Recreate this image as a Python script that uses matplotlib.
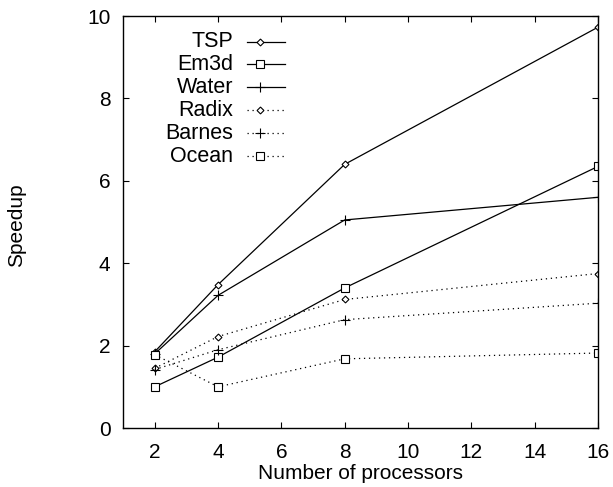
import matplotlib
matplotlib.use("Agg")
import matplotlib.pyplot as plt
from matplotlib.lines import Line2D

plt.rcParams['font.family'] = ['Liberation Sans', 'DejaVu Sans']

procs = [2, 4, 8, 16]
tsp = [1.85, 3.48, 6.40, 9.73]
em3d = [1.00, 1.72, 3.40, 6.35]
water = [1.80, 3.22, 5.05, 5.60]
radix = [1.45, 2.22, 3.12, 3.75]
barnes = [1.42, 1.90, 2.63, 3.03]
ocean = [1.78, 1.00, 1.68, 1.82]
names = ["TSP", "Em3d", "Water", "Radix", "Barnes", "Ocean"]
xticks = [2, 4, 6, 8, 10, 12, 14, 16]
yticks = [0, 2, 4, 6, 8, 10]

FS = 15

fig = plt.figure(figsize=(6.13, 4.87), dpi=100)
ax = fig.add_axes([0.2007, 0.1211, 0.7749, 0.846])

dot = (0, (1, 3))
styles = [
    ('D', '-', 3.5),
    ('s', '-', 5.5),
    ('+', '-', 7),
    ('D', dot, 3.5),
    ('+', dot, 7),
    ('s', dot, 5.5),
]
data = [tsp, em3d, water, radix, barnes, ocean]
for i, (name, vals, (m, ls, ms)) in enumerate(zip(names, data, styles)):
    ax.plot(procs, vals, color='black', linestyle=ls, linewidth=0.9,
            marker=m, markersize=ms, markerfacecolor='white',
            markeredgecolor='black', markeredgewidth=0.8)
    # gnuplot-style key: right-aligned label, then line sample with point
    yk = 0.938 - i * 0.0556
    ax.text(0.2316, yk, name, ha='right', va='center', fontsize=15.5,
            transform=ax.transAxes)
    ax.add_line(Line2D([0.261, 0.341], [yk, yk], color='black',
                       linestyle=ls, linewidth=0.9, transform=ax.transAxes,
                       clip_on=False))
    ax.add_line(Line2D([0.288], [yk], color='black', linestyle='none',
                       marker=m, markersize=ms, markerfacecolor='white',
                       markeredgecolor='black', markeredgewidth=0.8,
                       transform=ax.transAxes, clip_on=False))

ax.set_xlim(1, 16)
ax.set_ylim(0, 10)
ax.set_xticks(xticks)
ax.set_yticks(yticks)
ax.tick_params(direction='in', top=True, right=True, length=4.5, width=0.8,
               labelsize=FS)
ax.tick_params(axis='x', pad=11)
ax.tick_params(axis='y', pad=9)
for s in ax.spines.values():
    s.set_linewidth(1.0)

ax.set_xlabel("Number of processors", fontsize=FS, labelpad=1)
fig.text(17 / 613, 1 - 225 / 487, "Speedup", rotation=90, fontsize=FS,
         ha='center', va='center')

fig.savefig("out.png", dpi=100)
